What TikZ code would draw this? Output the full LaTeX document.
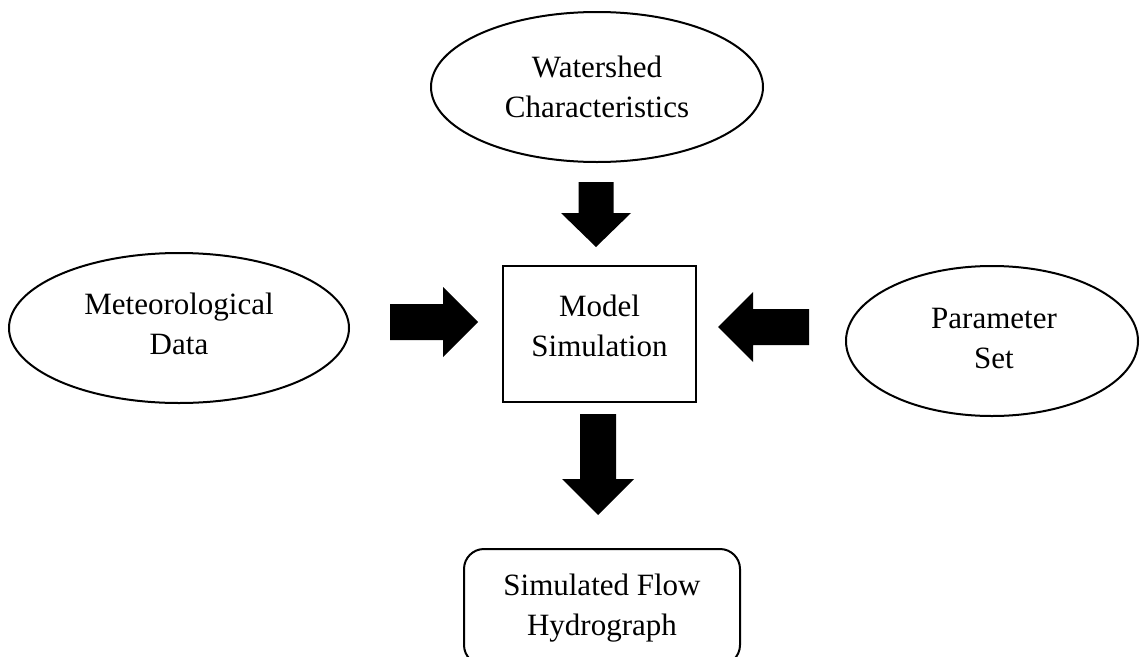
\documentclass[tikz,border=0pt]{standalone}
\usepackage{fontspec}
\setmainfont{Liberation Serif}
\usetikzlibrary{shapes.geometric}
\tikzset{
  lbl/.style={font=\fontsize{31}{40}\selectfont, align=center, inner sep=0pt},
  oval/.style={draw, line width=2pt, ellipse, inner sep=0pt},
  modelbox/.style={draw, line width=2pt, rectangle, inner sep=0pt},
  outbox/.style={draw, line width=2pt, rectangle, rounded corners=20pt, inner sep=0pt},
  blockarrow/.style={fill=black}
}
\begin{document}
\begin{tikzpicture}[x=1pt,y=-1pt]
\clip (0,0) rectangle (1140,656);
\fill[white] (0,0) rectangle (1140,656);
% input ellipses
\node[oval, minimum width=332pt, minimum height=150pt] (water) at (597,87) {};
\node[lbl] (watert) at (597,87) {Watershed\\Characteristics};
\node[oval, minimum width=340pt, minimum height=150pt] (met) at (179,328) {};
\node[lbl] (mett) at (179,324) {Meteorological\\Data};
\node[oval, minimum width=292pt, minimum height=150pt] (par) at (992,341) {};
\node[lbl] (part) at (994,338) {Parameter\\Set};
% model box
\node[modelbox, minimum width=193pt, minimum height=136pt] (model) at (599.5,334) {};
\node[lbl] (modelt) at (599.5,326) {Model\\Simulation};
% output
\node[outbox, minimum width=276pt, minimum height=116pt] (out) at (602,607) {};
\node[lbl] (outt) at (602,608) {Simulated Flow\\Hydrograph};
% block arrows
\fill[blockarrow] (578.5,182) -- (613.5,182) -- (613.5,213) -- (631,213) -- (596,247) -- (561,213) -- (578.5,213) -- cycle;
\fill[blockarrow] (390,304) -- (443,304) -- (443,287) -- (478,322) -- (443,357) -- (443,340) -- (390,340) -- cycle;
\fill[blockarrow] (809,309) -- (753,309) -- (753,292) -- (718,327) -- (753,362) -- (753,345) -- (809,345) -- cycle;
\fill[blockarrow] (580,414) -- (616,414) -- (616,479) -- (634,479) -- (598,515) -- (562,479) -- (580,479) -- cycle;
\end{tikzpicture}
\end{document}
